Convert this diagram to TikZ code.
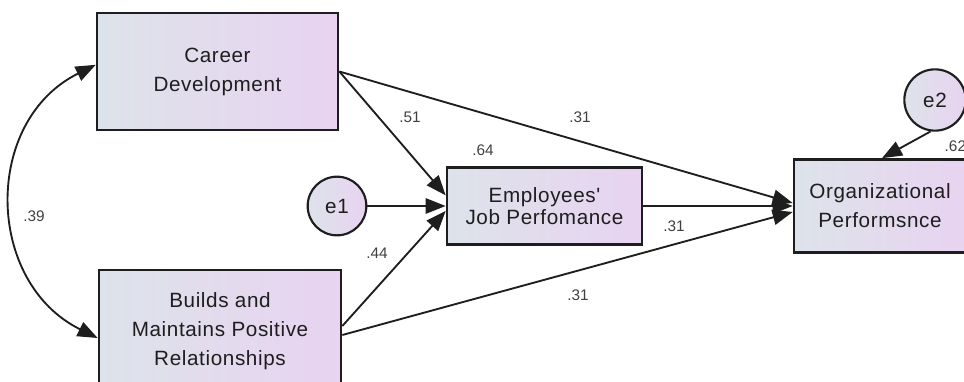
\documentclass[tikz,border=0pt]{standalone}
\usepackage{fontspec}
\setmainfont{Liberation Sans}
\newfontfamily\boxfont{Liberation Sans}[LetterSpace=3]
\usetikzlibrary{arrows.meta}
\definecolor{boxleft}{HTML}{DDE3EA}
\definecolor{boxright}{HTML}{E8D3F1}
\definecolor{ink}{HTML}{1E1E1E}

\begin{document}
\begin{tikzpicture}[x=0.75pt,y=-0.75pt,
  var/.style={draw=ink,line width=2pt,left color=boxleft,right color=boxright,
    align=center,inner sep=0pt,text=ink,font=\boxfont\fontsize{15.5}{21.75}\selectfont},
  err/.style={circle,draw=ink,line width=1.6pt,left color=boxleft,right color=boxright,
    inner sep=0pt,minimum size=44pt,text=ink,font=\boxfont\fontsize{15.5}{17}\selectfont},
  reg/.style={draw=ink,line width=1.4pt,-{Triangle[length=15pt,width=11.5pt]}},
  coef/.style={text=ink!85,font=\fontsize{11.5}{13}\selectfont}]
\useasboundingbox (0,0) rectangle (964,382);
\clip (0,0) rectangle (964,382);

% observed variables
\node[var,minimum width=180.75pt,minimum height=87.75pt] (cd) at (217.5,71.5) {Career\\Development};
\node[var,minimum width=181.5pt,minimum height=91.5pt] (bmp) at (220,331) {Builds and\\Maintains Positive\\Relationships};
\node[var,minimum width=146.25pt,minimum height=57.75pt,
  font=\boxfont\fontsize{15.5}{16.5}\selectfont] (ejp) at (544.5,206) {Employees'\\Job Perfomance};
\node[var,minimum width=129pt,minimum height=69.75pt] (op) at (880,206) {Organizational\\Performsnce};

% error terms
\node[err] (e1) at (337,206) {e1};
\node[err,minimum size=46pt] (e2) at (935,100) {e2};

% paths
\draw[reg] (cd.east) -- ([yshift=8pt]ejp.west);
\draw[reg] (cd.east) -- ([yshift=2.25pt]op.west);
\draw[reg] (e1.east) -- (ejp.west);
\draw[reg] ([yshift=3.75pt]bmp.east) -- ([yshift=-3.75pt]ejp.west);
\draw[reg] ([yshift=-3pt]bmp.east) -- ([yshift=-4.5pt]op.west);
\draw[reg] (ejp.east) -- (op.west);
\draw[reg] (e2.262) -- ([xshift=1.5pt]op.north);

% covariance
\draw[draw=ink,line width=1.4pt,{Triangle[length=15pt,width=11.5pt]}-{Triangle[length=15pt,width=11.5pt]}]
  ([yshift=5pt]cd.west) .. controls +(-113,56) and +(-113,-56) .. ([yshift=-5.25pt]bmp.west);

% estimates
\node[coef] (c39) at (34,216) {.39};
\node[coef] (c51) at (410,117) {.51};
\node[coef] (c31a) at (580,117) {.31};
\node[coef] (c64) at (483,150) {.64};
\node[coef] (c44) at (377,253) {.44};
\node[coef] (c31b) at (674,226) {.31};
\node[coef] (c31c) at (578,295) {.31};
\node[coef,anchor=west] (c62) at (940,146) {.62};
\end{tikzpicture}
\end{document}
